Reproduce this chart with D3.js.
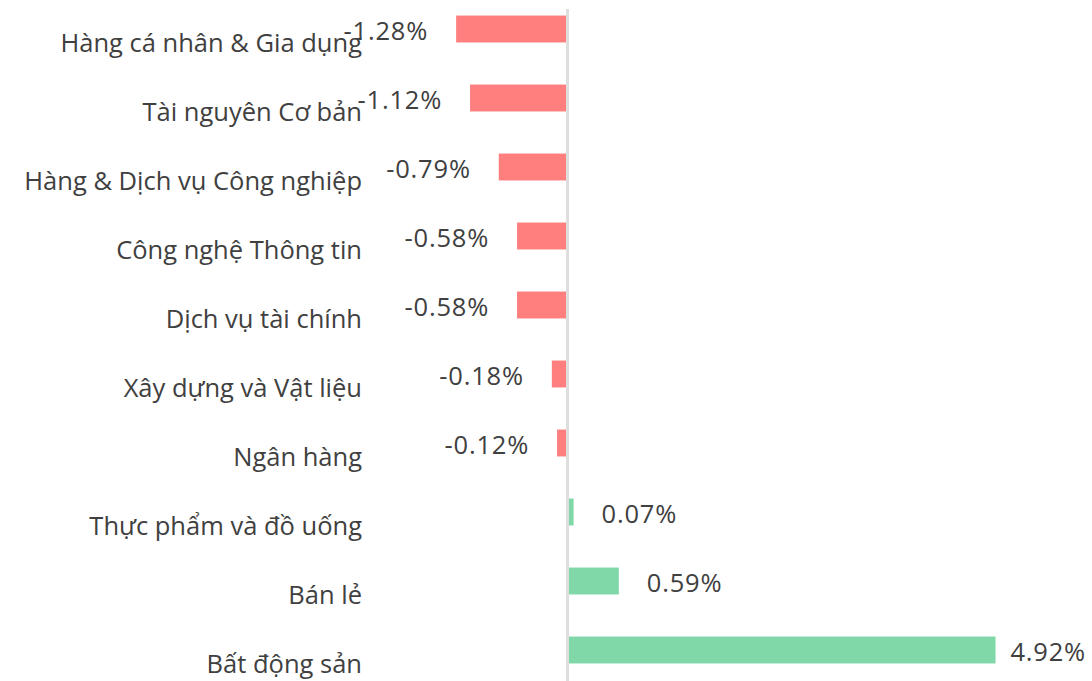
<!DOCTYPE html>
<html>
<head>
<meta charset="utf-8">
<script src="https://cdn.jsdelivr.net/npm/d3@7/dist/d3.min.js"></script>
<style>
  html, body { margin: 0; padding: 0; background: #ffffff; }
  svg { display: block; }
</style>
</head>
<body>
<svg id="chart" width="1092" height="681"></svg>
<script>
const categories = [
  "Hàng cá nhân & Gia dụng",
  "Tài nguyên Cơ bản",
  "Hàng & Dịch vụ Công nghiệp",
  "Công nghệ Thông tin",
  "Dịch vụ tài chính",
  "Xây dựng và Vật liệu",
  "Ngân hàng",
  "Thực phẩm và đồ uống",
  "Bán lẻ",
  "Bất động sản"
];
const values = [-1.28, -1.12, -0.79, -0.58, -0.58, -0.18, -0.12, 0.07, 0.59, 4.92];
const valueLabels = ["-1.28%", "-1.12%", "-0.79%", "-0.58%", "-0.58%", "-0.18%", "-0.12%", "0.07%", "0.59%", "4.92%"];

const W = 1092, H = 681;
const svg = d3.select("#chart");
const font = "'Open Sans', 'Noto Sans', sans-serif";

const x = d3.scaleLinear().domain([-1.5, 5]).range([437, 1002.5]);
const y = d3.scaleBand().domain(categories).range([-5.5, 684.5]).paddingInner(0.61).paddingOuter(0.305);

const negColor = "#ff7f7f";
const posColor = "#80d8a8";

svg.append("g").selectAll("rect")
  .data(values)
  .join("rect")
  .attr("x", d => Math.min(x(0), x(d)))
  .attr("width", d => Math.abs(x(d) - x(0)))
  .attr("y", (d, i) => y(categories[i]))
  .attr("height", y.bandwidth())
  .attr("fill", d => d < 0 ? negColor : posColor);

// zero axis line
svg.append("line")
  .attr("x1", x(0)).attr("x2", x(0))
  .attr("y1", 9).attr("y2", H)
  .attr("stroke", "#dedede")
  .attr("stroke-width", 3);

// category labels
svg.append("g").selectAll("text")
  .data(categories)
  .join("text")
  .attr("x", 362)
  .attr("y", d => y(d) + y.bandwidth() / 2 + 23)
  .attr("text-anchor", "end")
  .attr("font-family", font)
  .attr("font-size", 25.5)
  .attr("fill", "#404040")
  .text(d => d);

// value labels
const vl = svg.append("g").selectAll("text")
  .data(values)
  .join("text")
  .attr("y", (d, i) => y(categories[i]) + y.bandwidth() / 2 + 11)
  .attr("font-family", font)
  .attr("font-size", 25.5)
  .attr("letter-spacing", 0.8)
  .attr("fill", "#404040")
  .text((d, i) => valueLabels[i]);

vl.each(function(d) {
  const t = d3.select(this);
  const w = this.getComputedTextLength();
  if (d < 0) {
    t.attr("x", x(d) - 28).attr("text-anchor", "end");
  } else {
    t.attr("x", Math.min(x(d) + 28, W - 6 - w)).attr("text-anchor", "start");
  }
});
</script>
</body>
</html>
